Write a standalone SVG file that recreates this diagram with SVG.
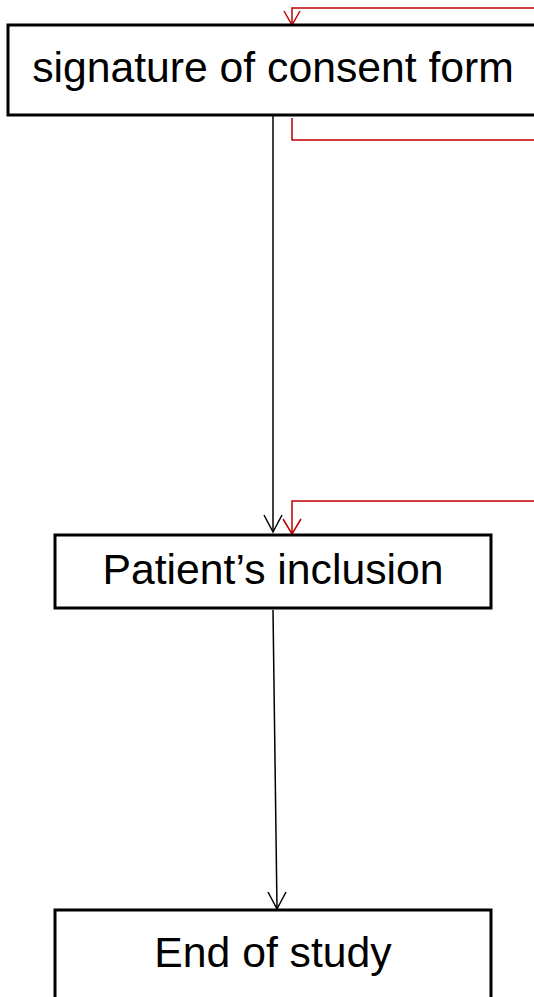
<svg xmlns="http://www.w3.org/2000/svg" width="534" height="997" viewBox="0 0 534 997">
<style>
.box{fill:#fff;stroke:#000;stroke-width:3}
.lbl{font-family:"Liberation Sans",Arial,sans-serif;font-size:42.7px;fill:#000;text-anchor:middle}
.blk{fill:none;stroke:#000;stroke-width:1.5}
.red{fill:none;stroke:#c00000;stroke-width:1.5}
</style>
<rect width="534" height="997" fill="#fff"/>
<g id="connectors">
<polyline class="red" points="540,8 292,8 292,25"/>
<polyline class="red" points="284,11 292,25 300,11"/>
<polyline class="red" points="292,118 292,140 540,140"/>
<line class="blk" x1="273" y1="116" x2="273" y2="532"/>
<polyline class="blk" points="264,515 273,532 282,515"/>
<polyline class="red" points="540,501 292,501 292,534"/>
<polyline class="red" points="283,519 292,534 301,519"/>
<line class="blk" x1="273" y1="610" x2="277" y2="909"/>
<polyline class="blk" points="268,892 277,909 286,892"/>
</g>
<g id="node-consent">
<rect class="box" x="8" y="25" width="540" height="90"/>
<text class="lbl" x="273" y="82">signature of consent form</text>
</g>
<g id="node-inclusion">
<rect class="box" x="55" y="535" width="436" height="73"/>
<text class="lbl" x="273" y="584">Patient’s inclusion</text>
</g>
<g id="node-end">
<rect class="box" x="55" y="910" width="436" height="100"/>
<text class="lbl" x="273" y="967">End of study</text>
</g>
</svg>
